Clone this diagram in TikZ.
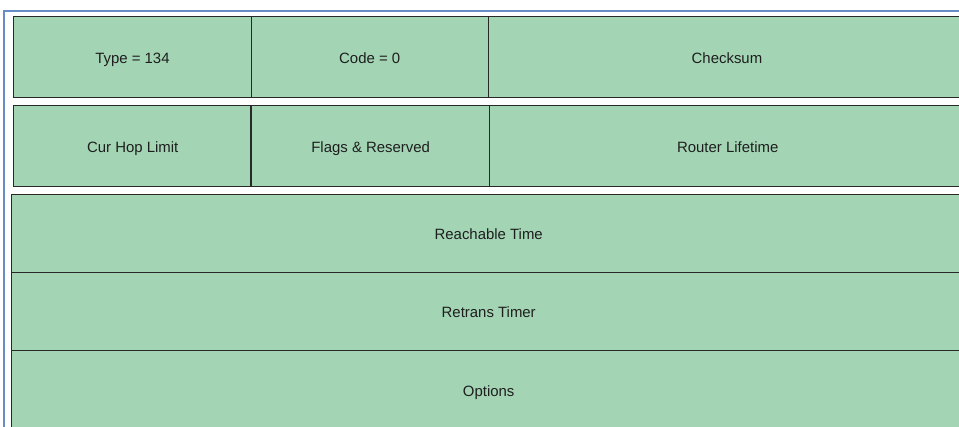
\documentclass[tikz,border=0pt]{standalone}
\usepackage{fontspec}
\setmainfont{Liberation Sans}
\definecolor{cellgreen}{RGB}{163,213,181}
\definecolor{edgegray}{RGB}{40,40,40}
\definecolor{frameblue}{RGB}{104,140,198}
\definecolor{txt}{RGB}{30,30,30}
\begin{document}
\begin{tikzpicture}[x=0.75pt,y=-0.75pt,
  cell/.style={draw=edgegray,line width=1.05pt,fill=cellgreen,anchor=north west,
    inner sep=0pt,text=txt,font=\fontsize{11.2pt}{13pt}\selectfont,
    text height=1.02em,text depth=0.12em}]
\useasboundingbox (0,0) rectangle (959,426);
\clip (0,0) rectangle (959,426);
\fill[white] (0,0) rectangle (959,426);
% blue frame
\draw[frameblue,line width=1.6pt] (4,440) -- (4,11) -- (980,11);
% row 1
\node[cell,minimum width=237.5*0.75pt,minimum height=81*0.75pt] (type) at (13,16) {Type = 134};
\node[cell,minimum width=237*0.75pt,minimum height=81*0.75pt] (code) at (250.5,16) {Code = 0};
\node[cell,minimum width=477.5*0.75pt,minimum height=81*0.75pt] (csum) at (487.5,16) {Checksum};
% row 2
\node[cell,minimum width=238*0.75pt,minimum height=81*0.75pt] (hop) at (13,105) {Cur Hop Limit};
\node[cell,minimum width=238*0.75pt,minimum height=81*0.75pt] (flags) at (251,105) {Flags \& Reserved};
\node[cell,minimum width=476*0.75pt,minimum height=81*0.75pt] (life) at (489,105) {Router Lifetime};
\draw[edgegray,line width=1.6pt] (flags.north west) -- (flags.south west);
% rows 3-5
\node[cell,minimum width=954*0.75pt,minimum height=77.5*0.75pt] (reach) at (11,194) {Reachable Time};
\node[cell,minimum width=954*0.75pt,minimum height=78.5*0.75pt] (retrans) at (11,271.5) {Retrans Timer};
\node[cell,minimum width=954*0.75pt,minimum height=80*0.75pt] (opts) at (11,350) {Options};
\end{tikzpicture}
\end{document}
